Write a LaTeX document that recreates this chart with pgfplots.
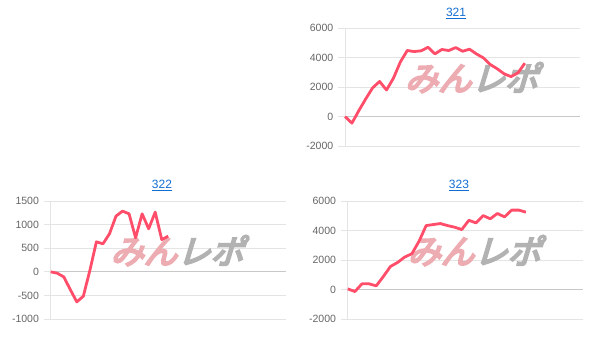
\documentclass[border=0pt]{standalone}
\usepackage{pgfplots}
\pgfplotsset{compat=1.18}
\usepackage{fontspec}
\setmainfont{Liberation Sans}
\newfontfamily\wm{Noto Sans CJK JP}[FakeBold=6,FakeSlant=0.3]
\definecolor{linec}{RGB}{255,77,106}
\definecolor{gridc}{RGB}{228,228,228}
\definecolor{zeroc}{RGB}{200,200,200}
\definecolor{tickc}{RGB}{102,102,102}
\definecolor{titlec}{RGB}{20,110,210}
\definecolor{wmpink}{RGB}{236,172,178}
\definecolor{wmgray}{RGB}{178,178,178}
\pgfplotsset{
  mini/.style={
    scale only axis, width=176.4pt, height=88.4pt,
    xmin=0, axis x line=none,
    axis y line*=left,
    y axis line style={draw=gridc,-},
    ymajorgrids, major grid style={draw=gridc, line width=0.6pt},
    tick align=outside, major tick length=5.25pt,
    ytick style={draw=gridc, line width=0.6pt},
    yticklabel style={font=\fontsize{7.9}{8}\selectfont, text=tickc},
    extra y ticks={0}, extra y tick labels={},
    extra y tick style={major grid style={draw=zeroc, line width=0.8pt}, tick style={draw=zeroc}},
    title style={font=\fontsize{9}{10}\selectfont, text=titlec, anchor=center, yshift=-6pt},
    clip=false,
  },
  redline/.style={color=linec, line width=2.1pt, line join=round, no markers},
}
\newcommand{\wmark}{\node[inner sep=0pt, anchor=center] at (axis description cs:0.537,0.58) {\wm\fontsize{25}{25}\selectfont\textcolor{wmpink}{みん}\textcolor{wmgray}{レポ}};}
\begin{document}
\begin{tikzpicture}
\path[use as bounding box] (0,0) rectangle (456.75pt,258.75pt);
% 321
\begin{axis}[mini, at={(258.75pt,149.25pt)}, anchor=south west,
  xmax=34, ymin=-2000, ymax=6000,
  ytick={-2000,0,2000,4000,6000}, yticklabels={-2000,0,2000,4000,6000},
  title={\underline{321}}, title style={at={(axis description cs:0.472,1.12)}}]
\wmark
\addplot[redline] coordinates {
(0,0) (1,-450) (2,400) (3,1200) (4,1950) (5,2380) (6,1800) (7,2600) (8,3700)
(9,4480) (10,4410) (11,4460) (12,4700) (13,4250) (14,4550) (15,4480) (16,4680)
(17,4430) (18,4570) (19,4250) (20,3980) (21,3530) (22,3240) (23,2900) (24,2710)
(25,2960) (26,3620)};
\end{axis}
% 322
\begin{axis}[mini, at={(38pt,19.5pt)}, anchor=south west,
  xmax=36, ymin=-1000, ymax=1500,
  ytick={-1000,-500,0,500,1000,1500}, yticklabels={-1000,-500,0,500,1000,1500},
  title={\underline{322}}, title style={at={(axis description cs:0.473,1.13)}}]
\wmark
\addplot[redline] coordinates {
(0,0) (1,-28) (2,-106) (3,-375) (4,-637) (5,-517) (6,30) (7,637) (8,594)
(9,807) (10,1182) (11,1288) (12,1231) (13,722) (14,1231) (15,913) (16,1267)
(17,686) (18,757)};
\end{axis}
% 323
\begin{axis}[mini, at={(260.8pt,19.5pt)}, anchor=south west,
  xmax=33, ymin=-2000, ymax=6000,
  ytick={-2000,0,2000,4000,6000}, yticklabels={-2000,0,2000,4000,6000},
  title={\underline{323}}, title style={at={(axis description cs:0.473,1.13)}}]
\wmark
\addplot[redline] coordinates {
(0,45) (1,-136) (2,386) (3,386) (4,250) (5,886) (6,1568) (7,1840) (8,2205)
(9,2430) (10,3270) (11,4340) (12,4410) (13,4477) (14,4340) (15,4230) (16,4070)
(17,4700) (18,4520) (19,5020) (20,4800) (21,5160) (22,4930) (23,5390) (24,5390)
(25,5250)};
\end{axis}
\end{tikzpicture}
\end{document}
